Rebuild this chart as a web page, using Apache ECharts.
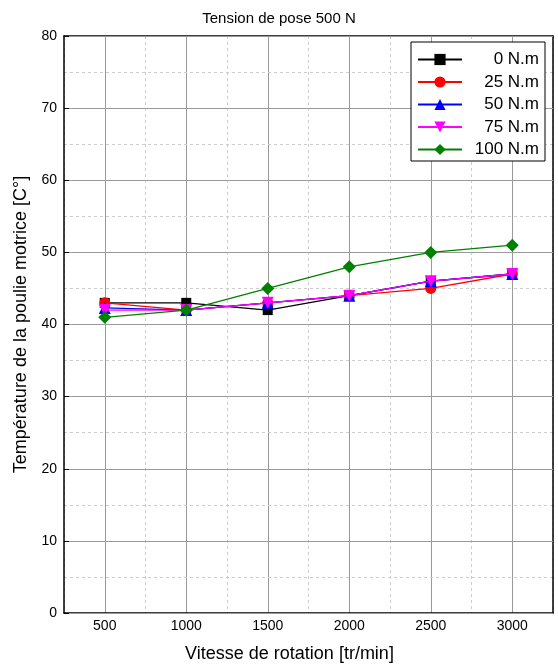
<!DOCTYPE html>
<html><head><meta charset="utf-8">
<script src="https://cdn.jsdelivr.net/npm/echarts@6/dist/echarts.min.js"></script>
<style>html,body{margin:0;padding:0;background:#fff}#c{width:558px;height:668px}</style>
</head><body><div id="c"></div>
<script>
const speeds = [500, 1000, 1500, 2000, 2500, 3000];
const seriesNames = ['0 N.m', '25 N.m', '50 N.m', '75 N.m', '100 N.m'];
const t0 = [43, 43, 42, 44, 46, 47];
const t25 = [43, 42, 43, 44, 45, 47];
const t50 = [42.3, 42, 43, 44, 46, 47];
const t75 = [42, 42, 43, 44, 46, 47];
const t100 = [41, 42, 45, 48, 50, 51];
const title = 'Tension de pose 500 N';
const xName = 'Vitesse de rotation [tr/min]';
const yName = 'Température de la poulie motrice [C°]';

const colors = ['#000000', '#ff0000', '#0000ff', '#ff00ff', '#008000'];
const symbols = ['rect', 'circle', 'triangle', 'triangle', 'diamond'];
const sizes = [10, 11, 12, 12, 13];
const rot = [0, 0, 0, 180, 0];
const values = [t0, t25, t50, t75, t100];
const FONT = 'Liberation Sans';

const series = values.map((v, i) => ({
  name: seriesNames[i], type: 'line', xAxisIndex: 0, yAxisIndex: 0,
  data: speeds.map((s, j) => [s, v[j]]),
  symbol: symbols[i], symbolSize: sizes[i], symbolRotate: rot[i], showAllSymbol: true,
  itemStyle: {color: colors[i]}, lineStyle: {color: colors[i], width: 1.3},
  z: 10 + i
}));

const chart = echarts.init(document.getElementById('c'), null, {renderer: 'canvas'});
chart.setOption({
  animation: false,
  backgroundColor: '#fff',
  textStyle: {fontFamily: FONT},
  title: {text: title, left: 'center', top: 6, textStyle: {fontFamily: FONT, fontSize: 15, fontWeight: 'normal', color: '#000'}},
  grid: {left: 64, right: 5, top: 36, bottom: 52, containLabel: false},
  legend: {
    orient: 'vertical', left: 411, top: 42, width: 134,
    backgroundColor: '#fff', borderColor: '#000', borderWidth: 1,
    padding: [9, 6, 3, 6], itemGap: 5.5, itemWidth: 44, itemHeight: 14,
    data: seriesNames,
    formatter: n => '{a|' + n + '}',
    textStyle: {fontFamily: FONT, fontSize: 17, color: '#000', rich: {a: {width: 72, align: 'right', fontSize: 17, fontFamily: FONT}}}
  },
  xAxis: [
    {type: 'value', min: 250, max: 3250, interval: 250, position: 'bottom',
     axisLine: {show: true, onZero: false, lineStyle: {color: '#000', width: 1.5}},
     axisTick: {show: false},
     axisLabel: {fontFamily: FONT, fontSize: 14, color: '#000', margin: 6, formatter: v => (v % 500 === 0 ? String(v) : '')},
     splitLine: {show: true, lineStyle: {color: ['rgba(0,0,0,0)', '#9a9a9a'], width: 1}},
     name: xName, nameLocation: 'middle', nameGap: 32,
     nameTextStyle: {fontFamily: FONT, fontSize: 18, color: '#000', padding: [0, 38, 0, 0]}},
    {type: 'value', min: 250, max: 3250, interval: 500, position: 'top',
     axisLine: {show: true, onZero: false, lineStyle: {color: '#000', width: 1.5}},
     axisTick: {show: false}, axisLabel: {show: false},
     splitLine: {show: true, lineStyle: {color: '#cccccc', type: [3, 3], width: 1}}}
  ],
  yAxis: [
    {type: 'value', min: 0, max: 80, interval: 10, position: 'left',
     axisLine: {show: true, onZero: false, lineStyle: {color: '#000', width: 1.5}},
     axisTick: {show: true, inside: true, length: 5, lineStyle: {color: '#000'}},
     axisLabel: {fontFamily: FONT, fontSize: 14, color: '#000', margin: 7},
     splitLine: {show: true, lineStyle: {color: '#9a9a9a', width: 1}},
     name: yName, nameLocation: 'middle', nameGap: 33, nameRotate: 90,
     nameTextStyle: {fontFamily: FONT, fontSize: 18, color: '#000'}, z: 3},
    {type: 'value', min: 0, max: 80, interval: 5, position: 'right',
     axisLine: {show: true, onZero: false, lineStyle: {color: '#000', width: 1.5}},
     axisTick: {show: false}, axisLabel: {show: false},
     splitLine: {show: true, lineStyle: {color: ['rgba(0,0,0,0)', '#cccccc'], type: [3, 3], width: 1}}, z: 1}
  ],
  series: series
});
</script></body></html>
